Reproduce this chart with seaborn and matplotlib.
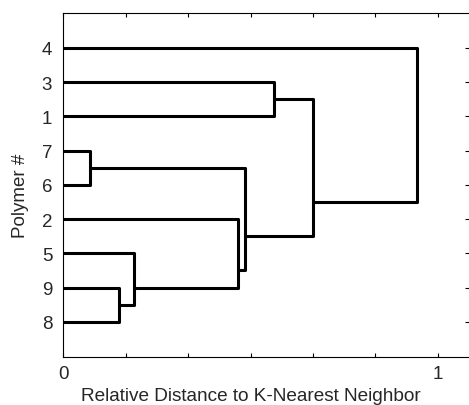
import matplotlib
matplotlib.use("Agg")
import matplotlib.pyplot as plt
import seaborn as sns
import pandas as pd
import numpy as np

# Leaves, top to bottom
leaf_labels = ['4', '3', '1', '7', '6', '2', '5', '9', '8']
# Merges: (left child, right child, merge height, y position of merged node)
merge_left = ['7', '9', '5', '2', 'm1', '3', 'm6', '4']
merge_right = ['6', '8', 'm2', 'm3', 'm4', '1', 'm5', 'm7']
merge_height = [0.070, 0.150, 0.190, 0.467, 0.484, 0.563, 0.666, 0.944]
merge_ypos = [4.5, 8.5, 8.0, 7.5, 6.5, 2.5, 5.5, 5.5]
merge_names = ['m1', 'm2', 'm3', 'm4', 'm5', 'm6', 'm7', 'm8']

xticks = [0, 1/6, 2/6, 3/6, 4/6, 5/6, 1]
xticklabels = ['0', '', '', '', '', '', '1']

# node positions
node_x = {lab: 0.0 for lab in leaf_labels}
node_y = {lab: i + 1 for i, lab in enumerate(leaf_labels)}
rows = []
for name, a, b, h, yp in zip(merge_names, merge_left, merge_right, merge_height, merge_ypos):
    pts = [(node_x[a], node_y[a]), (h, node_y[a]), (h, node_y[b]), (node_x[b], node_y[b])]
    for k, (x, y) in enumerate(pts):
        rows.append({'link': name, 'order': k, 'x': x, 'y': y})
    node_x[name] = h
    node_y[name] = yp
df = pd.DataFrame(rows)

sns.set_theme(style="white")
plt.rcParams['font.family'] = ['Liberation Sans', 'DejaVu Sans']

fig = plt.figure(figsize=(4.69, 4.06), dpi=100)
ax = fig.add_axes([0.135, 0.119, 0.865, 0.9648 - 0.119])

sns.lineplot(data=df, x='x', y='y', units='link', estimator=None, sort=False,
             color='black', linewidth=2.2, ax=ax)

ax.set_xlim(0, 1.0836)
ax.set_ylim(10.02, -0.01)
ax.set_yticks(range(1, len(leaf_labels) + 1))
ax.set_yticklabels(leaf_labels, fontsize=13.5)
ax.set_xticks(xticks)
ax.set_xticklabels(xticklabels, fontsize=13.5)
ax.set_xlabel('Relative Distance to K-Nearest Neighbor', fontsize=13.7, labelpad=3.5)
ax.set_ylabel('Polymer #', fontsize=13.5, labelpad=9)
ax.xaxis.label.set_x(0.4627)
ax.yaxis.label.set_y(0.471)

for s in ['left', 'bottom', 'top']:
    ax.spines[s].set_visible(True)
    ax.spines[s].set_color('black')
    ax.spines[s].set_linewidth(0.8)
ax.spines['right'].set_visible(False)

ax.tick_params(axis='x', which='both', direction='in', length=3, width=0.8,
               color='black', top=True, bottom=True, pad=6)
ax.tick_params(axis='y', which='both', direction='in', length=3, width=0.8,
               color='black', left=False, right=True, pad=8)

fig.savefig('out.png', dpi=100)
